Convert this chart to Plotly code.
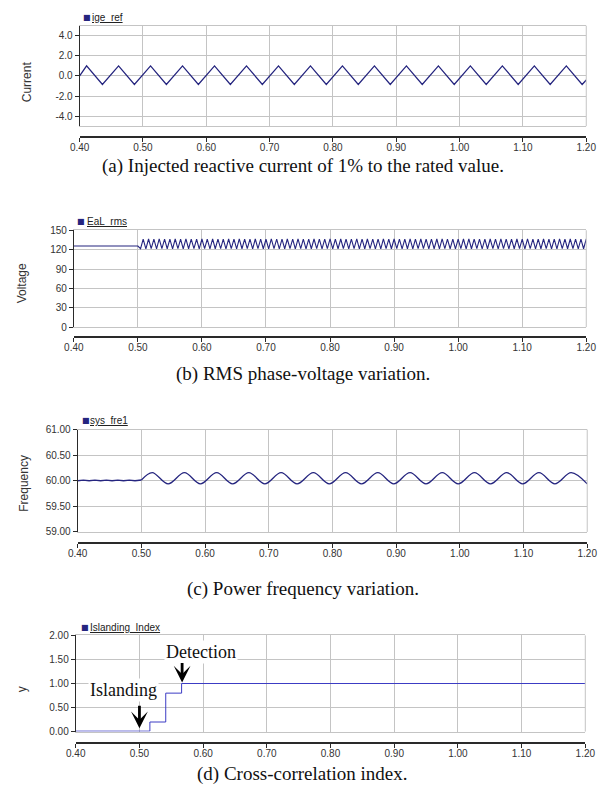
import plotly.graph_objects as go

W, H = 604, 798

# ---------------- data ----------------
X_TICKS = [0.40, 0.50, 0.60, 0.70, 0.80, 0.90, 1.00, 1.10, 1.20]
X_LABELS = ["0.40", "0.50", "0.60", "0.70", "0.80", "0.90", "1.00", "1.10", "1.20"]

# (a) injected reactive current reference (triangle wave vertices)
A_T = [0.400, 0.411, 0.436, 0.4615, 0.4865, 0.512, 0.537, 0.5625, 0.5875, 0.613,
       0.638, 0.6635, 0.6885, 0.714, 0.739, 0.7645, 0.7895, 0.815, 0.840, 0.8655,
       0.8905, 0.916, 0.941, 0.9665, 0.9915, 1.017, 1.042, 1.0675, 1.0925, 1.118,
       1.143, 1.1685, 1.1935, 1.200]
A_V = [0.0, 1.0, -0.85, 1.0, -0.85, 1.0, -0.85, 1.0, -0.85, 1.0,
       -0.85, 1.0, -0.85, 1.0, -0.85, 1.0, -0.85, 1.0, -0.85, 1.0,
       -0.85, 1.0, -0.85, 1.0, -0.85, 1.0, -0.85, 1.0, -0.85, 1.0,
       -0.85, 1.0, -0.85, -0.4]
A_YTICKS = [-4, -2, 0, 2, 4]
A_YLABELS = ["-4.0", "-2.0", "0.0", "2.0", "4.0"]

# (b) RMS phase voltage
B_PRE_T = [0.40, 0.50]
B_PRE_V = [125.6, 125.6]
B_T = [
    0.5000, 0.5042, 0.5083, 0.5125, 0.5167, 0.5208, 0.5250, 0.5292, 0.5333, 0.5375, 0.5417, 0.5458,
    0.5500, 0.5542, 0.5583, 0.5625, 0.5667, 0.5708, 0.5750, 0.5792, 0.5833, 0.5875, 0.5917, 0.5958,
    0.6000, 0.6042, 0.6083, 0.6125, 0.6167, 0.6208, 0.6250, 0.6292, 0.6333, 0.6375, 0.6417, 0.6458,
    0.6500, 0.6542, 0.6583, 0.6625, 0.6667, 0.6708, 0.6750, 0.6792, 0.6833, 0.6875, 0.6917, 0.6958,
    0.7000, 0.7042, 0.7083, 0.7125, 0.7167, 0.7208, 0.7250, 0.7292, 0.7333, 0.7375, 0.7417, 0.7458,
    0.7500, 0.7542, 0.7583, 0.7625, 0.7667, 0.7708, 0.7750, 0.7792, 0.7833, 0.7875, 0.7917, 0.7958,
    0.8000, 0.8042, 0.8083, 0.8125, 0.8167, 0.8208, 0.8250, 0.8292, 0.8333, 0.8375, 0.8417, 0.8458,
    0.8500, 0.8542, 0.8583, 0.8625, 0.8667, 0.8708, 0.8750, 0.8792, 0.8833, 0.8875, 0.8917, 0.8958,
    0.9000, 0.9042, 0.9083, 0.9125, 0.9167, 0.9208, 0.9250, 0.9292, 0.9333, 0.9375, 0.9417, 0.9458,
    0.9500, 0.9542, 0.9583, 0.9625, 0.9667, 0.9708, 0.9750, 0.9792, 0.9833, 0.9875, 0.9917, 0.9958,
    1.0000, 1.0042, 1.0083, 1.0125, 1.0167, 1.0208, 1.0250, 1.0292, 1.0333, 1.0375, 1.0417, 1.0458,
    1.0500, 1.0542, 1.0583, 1.0625, 1.0667, 1.0708, 1.0750, 1.0792, 1.0833, 1.0875, 1.0917, 1.0958,
    1.1000, 1.1042, 1.1083, 1.1125, 1.1167, 1.1208, 1.1250, 1.1292, 1.1333, 1.1375, 1.1417, 1.1458,
    1.1500, 1.1542, 1.1583, 1.1625, 1.1667, 1.1708, 1.1750, 1.1792, 1.1833, 1.1875, 1.1917, 1.1958,
    1.2000]
B_TROUGHS = [
    121.4, 121.2, 121.5, 121.3, 121.6, 121.4, 121.2, 121.5, 121.3, 121.4, 121.6, 121.3,
    121.5, 121.2, 121.4, 121.6, 121.3, 121.5, 121.2, 121.4, 121.5, 121.3, 121.6, 121.4,
    121.2, 121.5, 121.3, 121.4, 121.6, 121.2, 121.5, 121.3, 121.4, 121.5, 121.2, 121.6,
    121.3, 121.4, 121.5, 121.2, 121.6, 121.3, 121.4, 121.5, 121.3, 121.2, 121.6, 121.4,
    121.5, 121.3, 121.4, 121.2, 121.5, 121.6, 121.3, 121.4, 121.2, 121.5, 121.4, 121.3,
    121.6, 121.2, 121.4, 121.5, 121.3, 121.4, 121.6, 121.2, 121.5, 121.3, 121.4, 121.5,
    121.2, 121.6, 121.3, 121.4, 121.5, 121.3, 121.2, 121.6, 121.4, 121.5, 121.3, 121.4]
B_PEAKS = [
    136.2, 136.5, 136.3, 136.6, 136.4, 136.2, 136.5, 136.3, 136.6, 136.4, 136.1, 136.5,
    136.3, 136.6, 136.2, 136.4, 136.5, 136.3, 136.6, 136.2, 136.4, 136.5, 136.3, 136.1,
    136.6, 136.4, 136.2, 136.5, 136.3, 136.6, 136.4, 136.2, 136.5, 136.3, 136.4, 136.6,
    136.2, 136.5, 136.3, 136.4, 136.6, 136.2, 136.5, 136.4, 136.3, 136.6, 136.2, 136.5,
    136.4, 136.3, 136.6, 136.2, 136.5, 136.4, 136.3, 136.5, 136.6, 136.2, 136.4, 136.3,
    136.5, 136.6, 136.2, 136.4, 136.3, 136.5, 136.2, 136.6, 136.4, 136.3, 136.5, 136.2,
    136.6, 136.4, 136.3, 136.5, 136.2, 136.4, 136.6, 136.3, 136.5, 136.2, 136.4, 136.5]
B_YTICKS = [0, 30, 60, 90, 120, 150]
B_YLABELS = ["0", "30", "60", "90", "120", "150"]

# (c) system frequency
C_PRE_T = [0.400, 0.409, 0.418, 0.427, 0.436, 0.445, 0.454, 0.463, 0.472, 0.481, 0.490, 0.500]
C_PRE_V = [60.00, 60.012, 60.00, 60.012, 60.00, 60.012, 60.00, 60.012, 60.00, 60.012, 60.00, 60.015]
C_T = [0.500, 0.517, 0.542, 0.5676, 0.5926, 0.6182, 0.6432, 0.6688, 0.6938, 0.7194, 0.7444,
       0.7700, 0.7950, 0.8206, 0.8456, 0.8712, 0.8962, 0.9218, 0.9468, 0.9724, 0.9974,
       1.0230, 1.0480, 1.0736, 1.0986, 1.1242, 1.1492, 1.1748, 1.2000]
C_V = [60.015, 60.16, 59.94, 60.16, 59.94, 60.16, 59.94, 60.16, 59.94, 60.16, 59.94,
       60.16, 59.94, 60.16, 59.94, 60.16, 59.94, 60.16, 59.94, 60.16, 59.94,
       60.16, 59.94, 60.16, 59.94, 60.16, 59.94, 60.16, 59.94]
C_YTICKS = [59.0, 59.5, 60.0, 60.5, 61.0]
C_YLABELS = ["59.00", "59.50", "60.00", "60.50", "61.00"]

# (d) islanding (cross-correlation) index
D_T = [0.40, 0.5164, 0.5413, 0.5662, 1.20]
D_V = [0.01, 0.20, 0.80, 1.00, 1.00]
D_YTICKS = [0.0, 0.5, 1.0, 1.5, 2.0]
D_YLABELS = ["0.00", "0.50", "1.00", "1.50", "2.00"]

# ---------------- styling ----------------
NAVY = "#25257f"
GRID = "#c4c4c4"
DARK = "#2a2a2a"
TICKFONT = dict(family="Liberation Sans, Arial, sans-serif", size=10, color="#333333")
SERIF = "Liberation Serif, Times New Roman, serif"
SANS = "Liberation Sans, Arial, sans-serif"


def clamp(v):
    return max(0.0, min(1.0, v))


def fx(p):
    return p / W


def fy(p):
    return 1 - p / H


# panels: (x_left, x_right, y_top, y_bottom, x_axis_line) in px
PANELS = [
    (72, 596, 20, 122, 133),
    (66, 596, 227.7, 326, 336),
    (70, 597, 430, 534, 545),
    (68, 595, 639, 736.7, 748),
]
YRANGES = [[-5, 5], [0, 150], [59, 61], [0, 2]]
YT = [(A_YTICKS, A_YLABELS), (B_YTICKS, B_YLABELS), (C_YTICKS, C_YLABELS), (D_YTICKS, D_YLABELS)]

fig = go.Figure()

fig.add_trace(go.Scatter(x=A_T, y=A_V, mode="lines", line=dict(color=NAVY, width=1.3),
                         xaxis="x", yaxis="y", showlegend=False, hoverinfo="skip"))

b_vals = [B_PRE_V[1]]
for i in range(len(B_PEAKS)):
    b_vals.append(B_TROUGHS[i])
    b_vals.append(B_PEAKS[i])
fig.add_trace(go.Scatter(x=B_PRE_T[:1] + B_T, y=B_PRE_V[:1] + b_vals, mode="lines",
                         line=dict(color=NAVY, width=1.1),
                         xaxis="x2", yaxis="y2", showlegend=False, hoverinfo="skip"))

fig.add_trace(go.Scatter(x=C_PRE_T, y=C_PRE_V, mode="lines", line=dict(color=NAVY, width=1.3),
                         xaxis="x3", yaxis="y3", showlegend=False, hoverinfo="skip"))
fig.add_trace(go.Scatter(x=C_T, y=C_V, mode="lines",
                         line=dict(color=NAVY, width=1.3, shape="spline", smoothing=1),
                         xaxis="x3", yaxis="y3", showlegend=False, hoverinfo="skip"))

fig.add_trace(go.Scatter(x=D_T, y=D_V, mode="lines", line=dict(color="#3c3cc4", width=1.0, shape="hv"),
                         xaxis="x4", yaxis="y4", showlegend=False, hoverinfo="skip"))

# invisible traces so that detached x axes are drawn
for k in range(4):
    fig.add_trace(go.Scatter(x=[X_TICKS[0], X_TICKS[-1]], y=[None, None], mode="lines",
                             xaxis=f"x{k + 5}", yaxis="y" if k == 0 else f"y{k + 1}",
                             showlegend=False, hoverinfo="skip"))

layout = dict(
    width=W, height=H, margin=dict(l=0, r=0, t=0, b=0),
    paper_bgcolor="white", plot_bgcolor="white", showlegend=False,
)

shapes = []
annotations = []
for k, (xl, xr, yt, yb, xl_px) in enumerate(PANELS):
    n = "" if k == 0 else str(k + 1)
    layout[f"xaxis{n}"] = dict(
        domain=[clamp(fx(xl)), clamp(fx(xr))], range=[0.4, 1.2], anchor=f"y{n}",
        tickvals=X_TICKS, showticklabels=False, ticks="",
        showgrid=True, gridcolor=GRID, gridwidth=1,
        showline=True, linecolor=GRID, linewidth=1, mirror=True, zeroline=False,
    )
    tv, tl = YT[k]
    layout[f"yaxis{n}"] = dict(
        domain=[clamp(fy(yb)), clamp(fy(yt))], range=YRANGES[k], anchor=f"x{n}",
        tickvals=tv, ticktext=tl, ticks="outside", ticklen=4, tickcolor=DARK,
        tickfont=TICKFONT, showgrid=True, gridcolor=GRID, gridwidth=1,
        showline=True, linecolor=DARK, linewidth=1, zeroline=False,
    )
    layout[f"xaxis{k + 5}"] = dict(
        overlaying=f"x{n}", anchor="free", position=clamp(fy(xl_px)), range=[0.4, 1.2],
        tickvals=X_TICKS, ticktext=X_LABELS, ticks="outside", ticklen=4, tickcolor=DARK,
        tickfont=TICKFONT, showgrid=False, zeroline=False, ticklabeloverflow="allow",
        ticklabelstandoff=-3,
        showline=True, linecolor=DARK, linewidth=1.5, side="bottom",
    )
    shapes.append(dict(type="line", xref=f"x{n} domain", yref=f"y{n} domain",
                       x0=1, x1=1, y0=0, y1=1, line=dict(color=GRID, width=1)))

fig.update_layout(**layout)

# y-axis titles
YTITLES = [("Current", 17, 77), ("Voltage", 12, 282), ("Frequency", 14.5, 485), ("y", 12, 694)]
for txt, xp, yp in YTITLES:
    annotations.append(dict(text=txt, x=fx(xp), y=fy(yp), xref="paper", yref="paper",
                            textangle=-90, showarrow=False, xanchor="center", yanchor="middle",
                            font=dict(family=SANS, size=12, color="#333333")))

# legend-like labels
LEGENDS = [("ige_ref", 74, 83, 11.7), ("EaL_rms", 68, 78, 219), ("sys_fre1", 73, 81, 420.7),
           ("Islanding_Index", 72, 80.5, 631)]
for txt, sx, tx, yp in LEGENDS:
    annotations.append(dict(text="■", x=fx(sx - 1), y=fy(yp), xref="paper", yref="paper",
                            showarrow=False, xanchor="left", yanchor="middle",
                            font=dict(family="DejaVu Sans", size=8, color=NAVY)))
    annotations.append(dict(text=txt, x=fx(tx), y=fy(yp), xref="paper", yref="paper",
                            showarrow=False, xanchor="left", yanchor="middle",
                            font=dict(family=SANS, size=10, color="#222222", lineposition="under")))

# captions
CAPTIONS = [("(a) Injected reactive current of 1% to the rated value.", 162),
            ("(b) RMS phase-voltage variation.", 374),
            ("(c) Power frequency variation.", 592),
            ("(d) Cross-correlation index.", 780)]
for txt, yp in CAPTIONS:
    annotations.append(dict(text=txt, x=fx(303), y=fy(yp), xref="paper", yref="paper",
                            showarrow=False, xanchor="center", yanchor="middle", borderpad=0,
                            font=dict(family=SERIF, size=19, color="#111111")))

# panel (d) annotations
annotations.append(dict(text="Detection", x=fx(198), y=fy(656), xref="paper", yref="paper",
                        showarrow=False, xanchor="center", yanchor="middle", bgcolor="white",
                        font=dict(family=SERIF, size=18, color="#111111")))
annotations.append(dict(text="Islanding", x=fx(117), y=fy(694), xref="paper", yref="paper",
                        showarrow=False, xanchor="center", yanchor="middle", bgcolor="white",
                        font=dict(family=SERIF, size=18, color="#111111")))
annotations.append(dict(text="", x=0.567, y=1.02, xref="x4", yref="y4", ax=0, ay=-21,
                        showarrow=True, arrowhead=3, arrowsize=1, arrowwidth=2.8,
                        arrowcolor="#000000", standoff=0))
annotations.append(dict(text="", x=0.50, y=0.07, xref="x4", yref="y4", ax=0, ay=-24,
                        showarrow=True, arrowhead=3, arrowsize=1, arrowwidth=2.8,
                        arrowcolor="#000000", standoff=0))

fig.update_layout(shapes=shapes, annotations=annotations)

fig.write_html("out.html")
